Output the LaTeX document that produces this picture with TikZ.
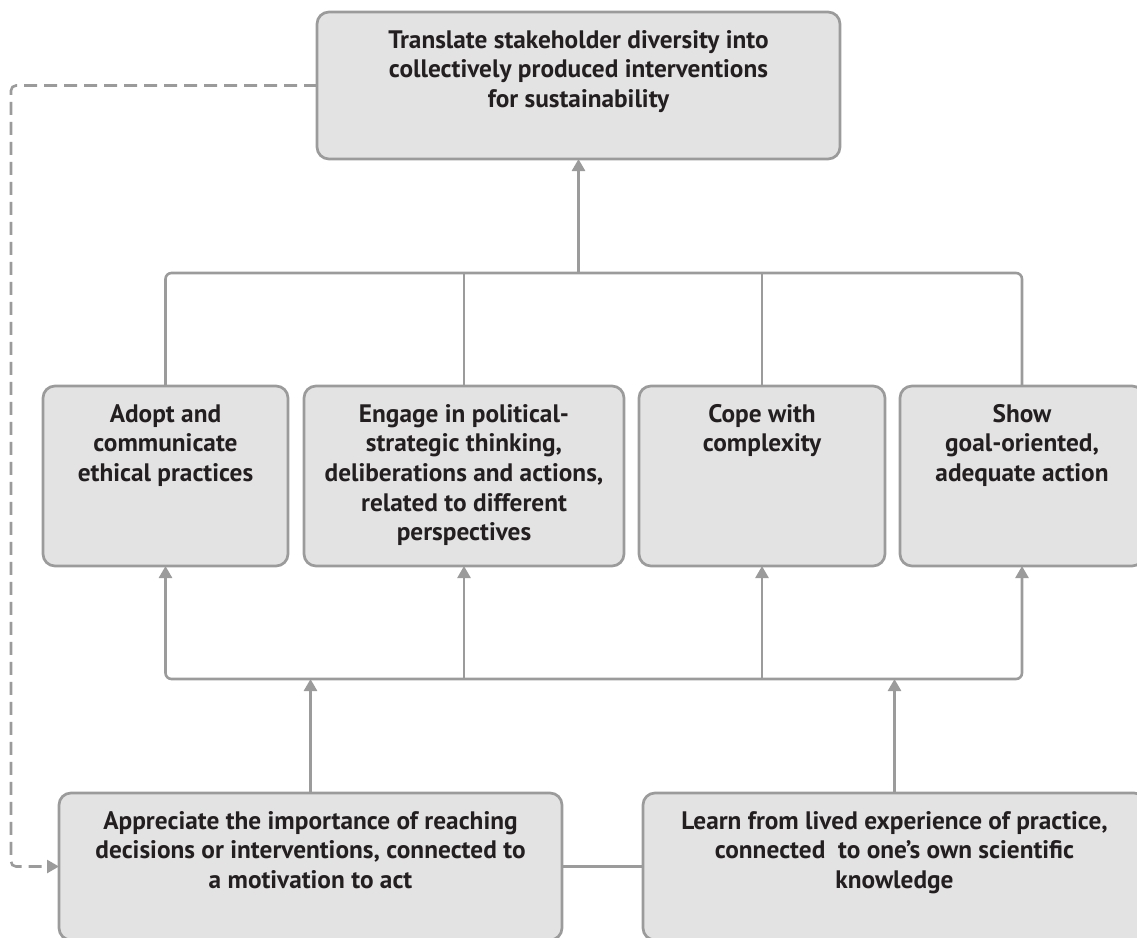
\documentclass[tikz,border=0pt]{standalone}
\usepackage{fontspec}
\setmainfont{PT Sans}
\usetikzlibrary{arrows.meta}
\definecolor{linegray}{HTML}{9B9B9B}
\definecolor{boxfill}{HTML}{E3E3E3}
\definecolor{txtcol}{HTML}{231F20}
\newcommand{\boxtext}[3]{\parbox[c][#2pt][t]{#1pt}{\centering\rule{0pt}{36pt}#3\par}}
\tikzset{
  box/.style={draw=linegray, fill=boxfill, line width=2.7pt, rounded corners=12pt,
    inner sep=0pt, outer sep=0pt, text=txtcol,
    font=\fontsize{25.3}{29.7}\selectfont\bfseries},
  conn/.style={draw=linegray, line width=2.6pt},
  arr/.style={conn, -{Triangle[width=13pt,length=12pt]}},
  dashconn/.style={conn, dash pattern=on 13pt off 7pt, rounded corners=5pt,
    -{Triangle[width=13pt,length=12pt]}},
}
\begin{document}
\begin{tikzpicture}[x=1pt,y=-1pt]
\useasboundingbox (0,0) rectangle (1137,937);
\coordinate (tb) at (0,273);
\coordinate (bb) at (0,679);
\coordinate (dx) at (11,0);

\node[box] (top) at (578.5,85.5) {\boxtext{523}{147}{Translate stakeholder diversity into\\collectively produced interventions\\for sustainability}};

\node[box] (m1) at (165.5,476) {\boxtext{245}{180}{Adopt and\\communicate\\ethical practices}};
\node[box] (m2) at (464,476) {\boxtext{320}{180}{Engage in political-\\strategic thinking,\\deliberations and actions,\\related to different\\perspectives}};
\node[box] (m3) at (762,476) {\boxtext{246}{180}{Cope with\\complexity}};
\node[box] (m4) at (1022,476) {\boxtext{244}{180}{Show\\goal-oriented,\\adequate action}};

\node[box] (b1) at (310.5,866.5) {\boxtext{503}{147}{Appreciate the importance of reaching\\decisions or interventions, connected to\\a motivation to act}};
\node[box] (b2) at (894.5,866.5) {\boxtext{503}{147}{Learn from lived experience of practice,\\connected\ \ to one’s own scientific\\knowledge}};

% top bar
\draw[conn, rounded corners=6pt] (m1.north) -- (m1.north |- tb) -- (m4.north |- tb) -- (m4.north);
\draw[conn] (m2.north) -- (m2.north |- tb);
\draw[conn] (m3.north) -- (m3.north |- tb);
\draw[arr] (top.south |- tb) -- (top.south);

% bottom bar
\draw[conn, rounded corners=6pt, {Triangle[width=13pt,length=12pt]}-{Triangle[width=13pt,length=12pt]}] (m1.south) -- (m1.south |- bb) -- (m4.south |- bb) -- (m4.south);
\draw[arr] (m2.south |- bb) -- (m2.south);
\draw[arr] (m3.south |- bb) -- (m3.south);
\draw[arr] (b1.north) -- (b1.north |- bb);
\draw[arr] (b2.north) -- (b2.north |- bb);

% link between bottom boxes
\draw[conn] (b1.east) -- (b2.west);

% dashed feedback
\draw[dashconn] (top.west) -- (top.west -| dx) -- (dx |- b1.west) -- (b1.west);
\end{tikzpicture}
\end{document}
